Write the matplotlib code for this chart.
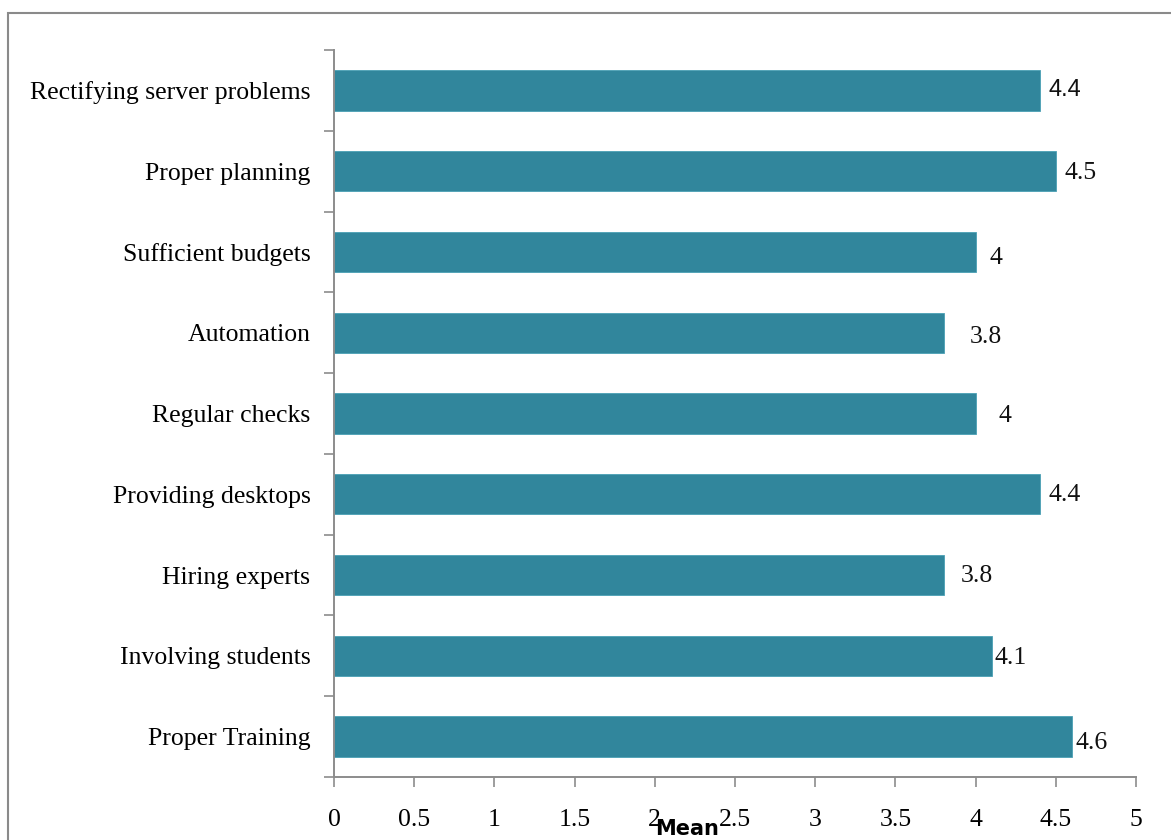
import matplotlib
matplotlib.use("Agg")
import matplotlib.pyplot as plt
from matplotlib.patches import Rectangle
import numpy as np

# data, bottom to top
categories = ["Proper Training", "Involving students", "Hiring experts",
              "Providing desktops", "Regular checks", "Automation",
              "Sufficient budgets", "Proper planning", "Rectifying server problems"]
means = [4.6, 4.1, 3.8, 4.4, 4.0, 3.8, 4.0, 4.5, 4.4]
value_labels = ["4.6", "4.1", "3.8", "4.4", "4", "3.8", "4", "4.5", "4.4"]
# label nudge in pixels (the original has them a bit scattered)
label_dx = [4, 3, 17, 9, 23, 26, 14, 9, 9]
label_dy = [-6, -2, -1, -1, -2, -4, -6, -2, 0]

serif = "Liberation Serif"
bar_color = "#31869C"
axis_gray = "#8c8c8c"

fig = plt.figure(figsize=(11.71, 8.4), dpi=100)
ax = fig.add_axes([334 / 1171, 1 - 777 / 840, (1136 - 334) / 1171, (777 - 50) / 840])

y = np.arange(len(categories))
ax.barh(y, means, height=0.5, color=bar_color, edgecolor="#4aa0b5", linewidth=0.6, zorder=2)

for i, (v, lab) in enumerate(zip(means, value_labels)):
    fam = "Liberation Sans" if i == len(means) - 1 else serif
    sz = 17 if i == len(means) - 1 else 18.5
    ax.annotate(lab, (v, i), xytext=(label_dx[i] * 0.72, label_dy[i] * 0.72),
                textcoords="offset points", ha="left", va="center",
                fontsize=sz, family=fam, color="#111111")

ax.set_xlim(0, 5)
ax.set_ylim(-0.5, len(categories) - 0.5)
ax.set_xticks(np.arange(0, 5.01, 0.5))
ax.set_xticklabels(["0", "0.5", "1", "1.5", "2", "2.5", "3", "3.5", "4", "4.5", "5"],
                   family=serif, fontsize=18.5)
ax.set_yticks(y)
ax.set_yticklabels(categories, family=serif, fontsize=18.5)
ax.set_yticks(np.arange(-0.5, len(categories), 1), minor=True)
ax.tick_params(axis="y", which="major", length=0, pad=17)
ax.tick_params(axis="y", which="minor", length=7, width=1.2, color=axis_gray, direction="out")
ax.tick_params(axis="x", which="major", length=7, width=1.2, color=axis_gray, direction="out", pad=16)

for s in ["top", "right"]:
    ax.spines[s].set_visible(False)
for s in ["left", "bottom"]:
    ax.spines[s].set_color(axis_gray)
    ax.spines[s].set_linewidth(1.4)

ax.set_xlabel("Mean", family="DejaVu Sans", fontweight="bold", fontsize=15)
ax.xaxis.set_label_coords((687 - 334) / 802, -(829 - 777) / 727)
ax.xaxis.label.set_va("center")

# outer chart border
fig.add_artist(Rectangle((8 / 1171, -0.2), 1.2, 0.2 + (840 - 13) / 840,
                         transform=fig.transFigure, fill=False,
                         edgecolor="#8a8a8a", linewidth=1.5, clip_on=False))

fig.savefig("out.png", dpi=100)
